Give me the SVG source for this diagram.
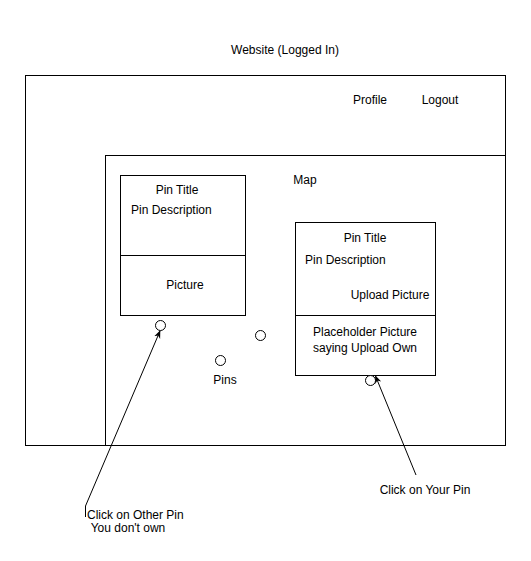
<svg xmlns="http://www.w3.org/2000/svg" width="531" height="561" viewBox="0 0 531 561">
<style>
text{font-family:"Liberation Sans",Arial,sans-serif;font-size:12px;fill:#000}
.box{fill:#fff;stroke:#000;stroke-width:1}
.pin{fill:#fff;stroke:#000;stroke-width:1}
.c{text-anchor:middle}
.conn{fill:none;stroke:#000;stroke-width:1}
</style>
<defs>
<marker id="ah" viewBox="0 0 10 10" refX="9" refY="5" markerWidth="8" markerHeight="8" orient="auto" markerUnits="userSpaceOnUse">
<path d="M0,1 L10,5 L0,9 L3,5 Z" fill="#000"/>
</marker>
</defs>
<rect width="531" height="561" fill="#fff"/>
<g id="website">
<rect class="box" x="25.5" y="75.5" width="480" height="370"/>
<text class="c" x="285" y="54">Website (Logged In)</text>
<text class="c" x="370" y="104">Profile</text>
<text class="c" x="440" y="104">Logout</text>
</g>
<g id="map">
<rect class="box" x="105.5" y="155.5" width="400" height="290"/>
<text class="c" x="305" y="184">Map</text>
</g>
<g id="other-pin-card">
<rect class="box" x="120.5" y="175.5" width="125" height="140"/>
<line class="conn" x1="120.5" y1="255.5" x2="245.5" y2="255.5"/>
<text class="c" x="177" y="194">Pin Title</text>
<text x="131" y="214">Pin Description</text>
<text class="c" x="185" y="289">Picture</text>
</g>
<g id="your-pin-card">
<rect class="box" x="295.5" y="222.5" width="140" height="153"/>
<line class="conn" x1="295.5" y1="315.5" x2="435.5" y2="315.5"/>
<text class="c" x="365" y="242">Pin Title</text>
<text x="305" y="264">Pin Description</text>
<text class="c" x="390" y="299">Upload Picture</text>
<text class="c" x="365" y="336">Placeholder Picture</text>
<text class="c" x="365" y="352">saying Upload Own</text>
</g>
<g id="pins">
<circle class="pin" cx="160.5" cy="325.5" r="5"/>
<circle class="pin" cx="260.5" cy="335.5" r="5"/>
<circle class="pin" cx="220.5" cy="360.5" r="5"/>
<circle class="pin" cx="370.5" cy="380.5" r="5"/>
<text class="c" x="225" y="384">Pins</text>
</g>
<g id="labels">
<text x="87" y="519">Click on Other Pin</text>
<text class="c" x="128" y="532">You don't own</text>
<text class="c" x="425" y="494">Click on Your Pin</text>
</g>
<g id="connectors">
<polyline class="conn" points="85.5,517 85.5,506 160,331" marker-end="url(#ah)"/>
<line class="conn" x1="416" y1="475" x2="375.5" y2="376" marker-end="url(#ah)"/>
</g>
</svg>
